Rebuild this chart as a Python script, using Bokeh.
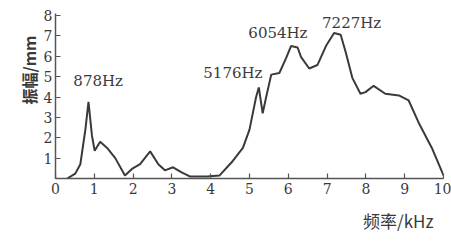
import math
from bokeh.plotting import figure
from bokeh.models import Label, FixedTicker, Range1d, Title
from bokeh.embed import file_html
from bokeh.resources import INLINE

freq_khz = [0.30, 0.51, 0.64, 0.77, 0.85, 0.94, 1.01, 1.15, 1.33, 1.54, 1.79, 1.97,
            2.18, 2.44, 2.65, 2.82, 3.03, 3.25, 3.46, 3.90, 4.23, 4.57, 4.83, 5.00,
            5.17, 5.24, 5.34, 5.43, 5.56, 5.77, 5.94, 6.07, 6.24, 6.33, 6.54, 6.75,
            6.97, 7.18, 7.35, 7.48, 7.65, 7.86, 7.99, 8.20, 8.50, 8.85, 9.10, 9.36,
            9.70, 10.0]
amp_mm = [0.0, 0.24, 0.70, 2.40, 3.76, 2.10, 1.36, 1.80, 1.50, 1.00, 0.15, 0.47,
          0.70, 1.33, 0.70, 0.40, 0.55, 0.30, 0.10, 0.10, 0.15, 0.86, 1.50, 2.40,
          4.00, 4.47, 3.20, 4.00, 5.10, 5.18, 5.90, 6.50, 6.43, 5.96, 5.40, 5.57,
          6.50, 7.14, 7.06, 6.20, 4.94, 4.16, 4.24, 4.55, 4.16, 4.08, 3.84, 2.74,
          1.50, 0.15]

peak_labels = ["878Hz", "5176Hz", "6054Hz", "7227Hz"]
peak_label_x = [0.46, 3.81, 4.97, 6.87]
peak_label_y = [4.80, 5.18, 7.16, 7.63]

x_ticks = [0, 1, 2, 3, 4, 5, 6, 7, 8, 9, 10]
y_ticks = [0, 1, 2, 3, 4, 5, 6, 7, 8]

ink = "#3a3a3a"
serif = "DejaVu Serif"
cjk = "Noto Sans CJK SC"

p = figure(width=451, height=242, output_backend="svg", toolbar_location=None,
           x_range=Range1d(0, 10), y_range=Range1d(0, 8.1),
           min_border_left=55, min_border_right=8, min_border_top=13, min_border_bottom=57)
p.outline_line_color = None
p.xgrid.visible = False
p.ygrid.visible = False

p.line(freq_khz, amp_mm, line_color=ink, line_width=2)

for ax, ticks in ((p.xaxis[0], x_ticks), (p.yaxis[0], y_ticks)):
    ax.ticker = FixedTicker(ticks=ticks)
    ax.axis_line_color = "#555555"
    ax.axis_line_width = 1.5
    ax.major_tick_line_color = "#555555"
    ax.major_tick_line_width = 1.2
    ax.major_tick_in = 5
    ax.major_tick_out = 0
    ax.minor_tick_line_color = None
    ax.major_label_text_font = serif
    ax.major_label_text_font_size = "14px"
    ax.major_label_text_color = ink

p.xaxis[0].major_label_standoff = 4
p.yaxis[0].major_label_standoff = 3
p.yaxis[0].major_label_overrides = {0: ""}

for t, x, y in zip(peak_labels, peak_label_x, peak_label_y):
    p.add_layout(Label(x=x, y=y, text=t, text_font=serif, text_font_size="15px",
                       text_color=ink, text_baseline="middle", text_align="left"))

p.add_layout(Title(text="频率/kHz", text_font=cjk, text_font_size="17px",
                   text_font_style="normal", text_color=ink, align="right",
                   offset=10, standoff=19), "below")
p.add_layout(Title(text="振幅/mm", text_font=cjk, text_font_size="16px",
                   text_font_style="bold", text_color=ink, align="right",
                   offset=22, standoff=0), "left")

open("out.html", "w").write(file_html(p, INLINE))
